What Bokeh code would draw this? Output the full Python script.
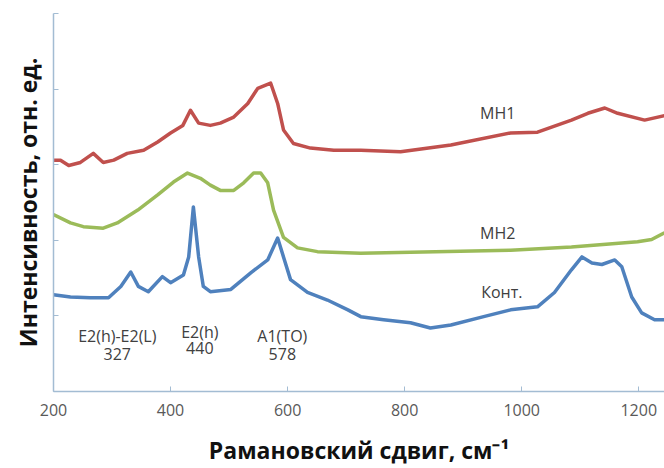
from bokeh.plotting import figure
from bokeh.models import Range1d, FixedTicker
from bokeh.core.properties import value
from bokeh.embed import file_html
from bokeh.resources import INLINE

# --- data ---
mh1_x = [200, 212, 226, 246, 268, 285, 303, 326, 354, 378, 400, 421, 434, 448, 468, 485, 508, 532,
         549, 571, 583, 593, 610, 639, 679, 725, 793, 879, 981, 1027, 1085, 1113, 1142, 1164, 1210, 1244]
mh1_y = [3.06, 3.06, 2.99, 3.03, 3.15, 3.03, 3.06, 3.15, 3.19, 3.30, 3.42, 3.52, 3.72, 3.55, 3.52, 3.55,
         3.63, 3.81, 4.01, 4.08, 3.81, 3.46, 3.28, 3.22, 3.19, 3.19, 3.17, 3.26, 3.42, 3.43, 3.59, 3.68,
         3.75, 3.68, 3.59, 3.65]

mh2_x = [200, 229, 251, 285, 309, 344, 378, 405, 429, 451, 468, 485, 508, 525, 542, 554, 566, 576,
         593, 617, 651, 725, 981, 1085, 1198, 1222, 1244]
mh2_y = [2.34, 2.23, 2.18, 2.16, 2.23, 2.40, 2.60, 2.77, 2.89, 2.82, 2.73, 2.66, 2.66, 2.76, 2.89, 2.89,
         2.76, 2.40, 2.04, 1.90, 1.85, 1.83, 1.87, 1.91, 1.98, 2.01, 2.10]

cont_x = [200, 229, 263, 294, 315, 332, 345, 362, 386, 400, 422, 431, 439, 448, 456, 468, 503, 537,
          566, 583, 593, 605, 634, 668, 703, 725, 764, 810, 844, 879, 935, 981, 1027, 1056, 1085, 1103,
          1120, 1137, 1159, 1171, 1188, 1205, 1227, 1244]
cont_y = [1.28, 1.25, 1.24, 1.24, 1.39, 1.58, 1.39, 1.32, 1.52, 1.44, 1.54, 1.78, 2.44, 1.78, 1.39, 1.32,
          1.35, 1.57, 1.74, 2.03, 1.78, 1.48, 1.31, 1.21, 1.08, 0.99, 0.95, 0.91, 0.84, 0.88, 0.99, 1.08,
          1.12, 1.31, 1.61, 1.78, 1.70, 1.68, 1.74, 1.65, 1.25, 1.04, 0.95, 0.95]

x_ticks = [200, 400, 600, 800, 1000, 1200]
y_ticks = [0, 1, 2, 3, 4, 5]

series_names = ["МН1", "МН2", "Конт."]
series_label_x = [959, 959, 966]
series_label_y = [3.69, 2.10, 1.32]

peak_names = ["E2(h)-E2(L)", "E2(h)", "A1(TO)"]
peak_values = ["327", "440", "578"]
peak_label_x = [309, 450, 591]
peak_name_y = [0.73, 0.79, 0.73]
peak_value_y = [0.49, 0.57, 0.49]

AXIS_COLOR = "#A3BCD3"
TEXT_COLOR = "#404040"
FONT = "Open Sans"

p = figure(width=664, height=468, output_backend="svg", toolbar_location=None,
           x_range=Range1d(200, 1244), y_range=Range1d(0, 5),
           min_border_left=53, min_border_right=0, min_border_top=13, min_border_bottom=76)
p.outline_line_color = None
p.background_fill_color = "white"
p.border_fill_color = "white"
p.xgrid.visible = False
p.ygrid.visible = False

p.line(mh1_x, mh1_y, line_color="#C0504D", line_width=3.5, line_join="round")
p.line(mh2_x, mh2_y, line_color="#9BBB59", line_width=3.5, line_join="round")
p.line(cont_x, cont_y, line_color="#4F81BD", line_width=3.5, line_join="round")

p.text(series_label_x, series_label_y, text=series_names, text_font=value(FONT),
       text_font_size="16px", text_color=TEXT_COLOR, text_align="center", text_baseline="middle")
p.text(peak_label_x, peak_name_y, text=peak_names, text_font=value(FONT),
       text_font_size="16px", text_color=TEXT_COLOR, text_align="center", text_baseline="middle")
p.text(peak_label_x, peak_value_y, text=peak_values, text_font=value(FONT),
       text_font_size="16px", text_color=TEXT_COLOR, text_align="center", text_baseline="middle")

# x axis
xa = p.xaxis[0]
xa.ticker = FixedTicker(ticks=x_ticks)
xa.axis_line_color = AXIS_COLOR
xa.axis_line_width = 1.5
xa.major_tick_line_color = AXIS_COLOR
xa.major_tick_in = 5
xa.major_tick_out = 0
xa.minor_tick_line_color = None
xa.major_label_text_font = FONT
xa.major_label_text_font_size = "16px"
xa.major_label_text_color = "#595959"
xa.major_label_standoff = 12
xa.axis_label = "Рамановский сдвиг, см⁻¹"
xa.axis_label_text_font = FONT
xa.axis_label_text_font_style = "bold"
xa.axis_label_text_font_size = "23px"
xa.axis_label_text_color = "#111111"
xa.axis_label_standoff = 15

# y axis
ya = p.yaxis[0]
ya.ticker = FixedTicker(ticks=y_ticks)
ya.axis_line_color = AXIS_COLOR
ya.axis_line_width = 1.5
ya.major_tick_line_color = AXIS_COLOR
ya.major_tick_in = 5
ya.major_tick_out = 0
ya.minor_tick_line_color = None
ya.major_label_text_font_size = "0px"
ya.major_label_standoff = 0
ya.axis_label = "Интенсивность, отн. ед."
ya.axis_label_text_font = FONT
ya.axis_label_text_font_style = "bold"
ya.axis_label_text_font_size = "23px"
ya.axis_label_text_color = "#111111"
ya.axis_label_standoff = 10

open("out.html", "w").write(file_html(p, INLINE))
